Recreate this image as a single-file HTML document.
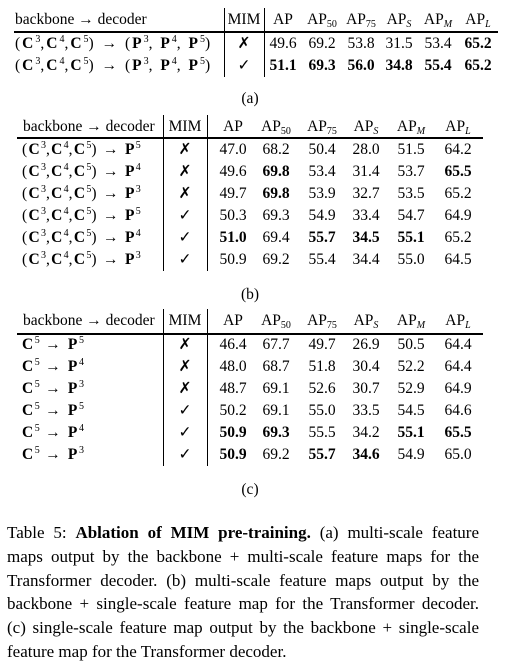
<!DOCTYPE html>
<html><head><meta charset="utf-8">
<style>
body{margin:0;width:522px;height:669px;background:#fff;position:relative;overflow:hidden;font-family:"Liberation Serif",serif;color:#000}
.t{position:absolute;font-size:15.5px;line-height:18px;white-space:nowrap;transform:translateX(-50%)}
.l{position:absolute;font-size:15.5px;line-height:18px;white-space:nowrap}
.lab{letter-spacing:1.2px}
.hr{position:absolute;height:0;border-top:1px solid #000}
.thick{border-top-width:2px}
.vr{position:absolute;width:0;border-left:1px solid #000}
b{font-weight:bold}
sub{font-size:10px;vertical-align:-3px;line-height:0;letter-spacing:0}
sup{font-size:10px;vertical-align:6px;line-height:0;letter-spacing:0}
.cap{position:absolute;left:7px;width:472px;top:521px;font-size:17px;line-height:23.8px}
.cap div{text-align:justify;text-align-last:justify;white-space:nowrap}
.cap div.last{text-align-last:left}
</style></head>
<body>
<div id="root"></div>
<div class="cap">
<div>Table 5: <b>Ablation of MIM pre-training.</b> (a) multi-scale feature</div>
<div>maps output by the backbone + multi-scale feature maps for the</div>
<div>Transformer decoder. (b) multi-scale feature maps output by the</div>
<div>backbone + single-scale feature map for the Transformer decoder.</div>
<div>(c) single-scale feature map output by the backbone + single-scale</div>
<div class="last">feature map for the Transformer decoder.</div>
</div>
<script>
const root=document.getElementById('root');
function add(cls,html,x,y,extra){const d=document.createElement('div');d.className=cls;d.innerHTML=html;d.style.left=x+'px';d.style.top=y+'px';if(extra)Object.assign(d.style,extra);root.appendChild(d);return d;}
const hdr=['AP','AP<sub>50</sub>','AP<sub>75</sub>','AP<sub><i>S</i></sub>','AP<sub><i>M</i></sub>','AP<sub><i>L</i></sub>'];
const aRows=['(<b>C</b><sup>3</sup>,<b>C</b><sup>4</sup>,<b>C</b><sup>5</sup>) → (<b>P</b><sup>3</sup>, <b>P</b><sup>4</sup>, <b>P</b><sup>5</sup>)','(<b>C</b><sup>3</sup>,<b>C</b><sup>4</sup>,<b>C</b><sup>5</sup>) → (<b>P</b><sup>3</sup>, <b>P</b><sup>4</sup>, <b>P</b><sup>5</sup>)'];
const aMim=[0,1];
const aVals=[[49.6,69.2,53.8,31.5,53.4,65.2],[51.1,69.3,56.0,34.8,55.4,65.2]];
const aBold=[[0,0,0,0,0,1],[1,1,1,1,1,1]];
const bRows=['(<b>C</b><sup>3</sup>,<b>C</b><sup>4</sup>,<b>C</b><sup>5</sup>) → <b>P</b><sup>5</sup>','(<b>C</b><sup>3</sup>,<b>C</b><sup>4</sup>,<b>C</b><sup>5</sup>) → <b>P</b><sup>4</sup>','(<b>C</b><sup>3</sup>,<b>C</b><sup>4</sup>,<b>C</b><sup>5</sup>) → <b>P</b><sup>3</sup>','(<b>C</b><sup>3</sup>,<b>C</b><sup>4</sup>,<b>C</b><sup>5</sup>) → <b>P</b><sup>5</sup>','(<b>C</b><sup>3</sup>,<b>C</b><sup>4</sup>,<b>C</b><sup>5</sup>) → <b>P</b><sup>4</sup>','(<b>C</b><sup>3</sup>,<b>C</b><sup>4</sup>,<b>C</b><sup>5</sup>) → <b>P</b><sup>3</sup>'];
const bMim=[0,0,0,1,1,1];
const bVals=[[47.0,68.2,50.4,28.0,51.5,64.2],[49.6,69.8,53.4,31.4,53.7,65.5],[49.7,69.8,53.9,32.7,53.5,65.2],[50.3,69.3,54.9,33.4,54.7,64.9],[51.0,69.4,55.7,34.5,55.1,65.2],[50.9,69.2,55.4,34.4,55.0,64.5]];
const bBold=[[0,0,0,0,0,0],[0,1,0,0,0,1],[0,1,0,0,0,0],[0,0,0,0,0,0],[1,0,1,1,1,0],[0,0,0,0,0,0]];
const cRows=['<b>C</b><sup>5</sup> → <b>P</b><sup>5</sup>','<b>C</b><sup>5</sup> → <b>P</b><sup>4</sup>','<b>C</b><sup>5</sup> → <b>P</b><sup>3</sup>','<b>C</b><sup>5</sup> → <b>P</b><sup>5</sup>','<b>C</b><sup>5</sup> → <b>P</b><sup>4</sup>','<b>C</b><sup>5</sup> → <b>P</b><sup>3</sup>'];
const cMim=[0,0,0,1,1,1];
const cVals=[[46.4,67.7,49.7,26.9,50.5,64.4],[48.0,68.7,51.8,30.4,52.2,64.4],[48.7,69.1,52.6,30.7,52.9,64.9],[50.2,69.1,55.0,33.5,54.5,64.6],[50.9,69.3,55.5,34.2,55.1,65.5],[50.9,69.2,55.7,34.6,54.9,65.0]];
const cBold=[[0,0,0,0,0,0],[0,0,0,0,0,0],[0,0,0,0,0,0],[0,0,0,0,0,0],[1,1,0,0,1,1],[1,0,1,1,0,0]];

function table(cfg){
  const {rows,mim,vals,bold,hy,ruleY,rowY,rowH,x0,x1,v1,v2,colX,mimX,capY,cap,name,ls}=cfg;
  let h=add('l','backbone → decoder',cfg.hx,hy-9);
  
  
  h=add('t','MIM',mimX,hy-9);
  
  
  hdr.forEach((s,i)=>{const e=add('t',s,colX[i],hy-9);
    
    });
  const r=add('hr thick','',x0,ruleY,{width:(x1-x0)+'px'});
  
  
  const bottom=rowY+rowH*(rows.length-1)+11;
  [v1,v2].forEach((vx,k)=>{const v=add('vr','',vx,hy-12,{height:(bottom-hy+12)+'px'});
    
    });
  rows.forEach((lab,i)=>{
    const y=rowY+rowH*i-9;
    const e=add('l lab',lab,cfg.lx,y,{letterSpacing:ls+'px'});
    
    
    const m=add('t',mim[i]?'✓':'✗',mimX,y);
    
    
    vals[i].forEach((v,j)=>{const c=add('t',bold[i][j]?'<b>'+v.toFixed(1)+'</b>':v.toFixed(1),colX[j],y);
      
      });
  });
  const c=add('t',cap,250,capY-9);
  
  
}
table({name:'table-a',ls:2.0,rows:aRows,mim:aMim,vals:aVals,bold:aBold,hy:20,ruleY:31,rowY:44,rowH:22,x0:14,x1:498,v1:224,v2:264,hx:15,lx:15,mimX:244,colX:[283,322,361,399,438,478],capY:99,cap:'(a)'});
table({name:'table-b',ls:1.3,rows:bRows,mim:bMim,vals:bVals,bold:bBold,hy:127,ruleY:137,rowY:150,rowH:22,x0:17,x1:483,v1:163,v2:207,hx:23,lx:22,mimX:185,colX:[233,276,322,366,411,458],capY:295,cap:'(b)'});
table({name:'table-c',ls:1.6,rows:cRows,mim:cMim,vals:cVals,bold:cBold,hy:321,ruleY:333,rowY:345,rowH:22,x0:17,x1:483,v1:163,v2:207,hx:23,lx:22,mimX:185,colX:[233,276,322,366,411,458],capY:490,cap:'(c)'});
</script>
</body></html>
